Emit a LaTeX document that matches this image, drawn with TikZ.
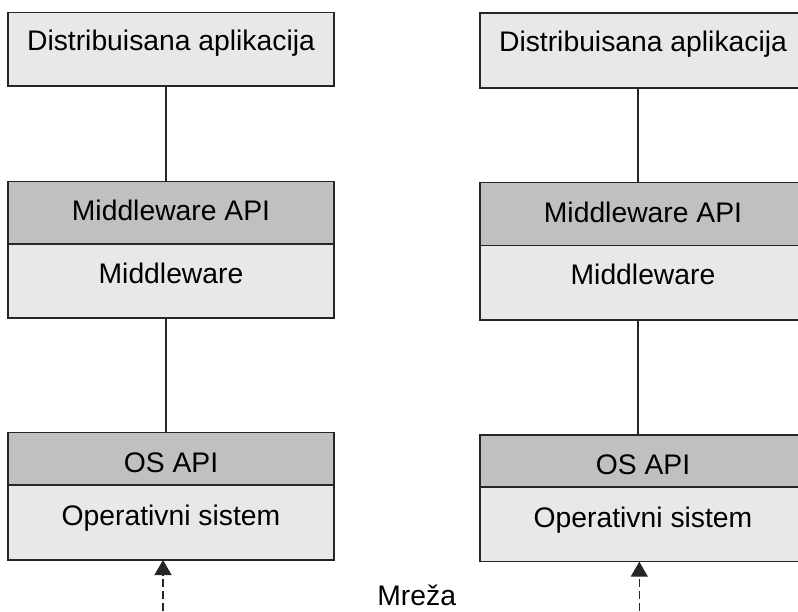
\documentclass[tikz,border=0pt]{standalone}
\usepackage{fontspec}
\setmainfont{Liberation Sans}
\usetikzlibrary{arrows.meta}
\definecolor{layerfill}{HTML}{E8E8E8}
\definecolor{apifill}{HTML}{C0C0C0}
\definecolor{edge}{HTML}{262626}
\begin{document}
\begin{tikzpicture}[x=1pt,y=-1pt,
  layer/.style={draw=edge, line width=1.3pt, fill=layerfill, rectangle,
    inner sep=0pt, outer sep=0pt, anchor=north west, minimum width=326pt},
  apilayer/.style={layer, fill=apifill},
  lbl/.style={anchor=base, inner sep=0pt, font=\fontsize{28.3}{34}\selectfont},
  link/.style={draw=edge, line width=1.3pt},
  net/.style={draw=edge, line width=1.4pt, dash pattern=on 8pt off 4pt,
    -{Triangle[length=15pt,width=17pt]}}]
\useasboundingbox (0,0) rectangle (798,611);
\clip (0,0) rectangle (798,611);

% left host stack
\node[layer, minimum height=73.3pt] (appL) at (8,12.7) {};
\node[lbl] (appLt) at (171,50.5) {Distribuisana aplikacija};
\node[apilayer, minimum height=62.3pt] (mwapiL) at (8,181.7) {};
\node[lbl] (mwapiLt) at (171,220.7) {Middleware API};
\node[layer, minimum height=74pt] (mwL) at (8,244) {};
\node[lbl] (mwLt) at (171,283) {Middleware};
\node[apilayer, minimum height=52.3pt] (osapiL) at (8,432.7) {};
\node[lbl] (osapiLt) at (171,472) {OS API};
\node[layer, minimum height=75pt] (osL) at (8,485) {};
\node[lbl] (osLt) at (171,525) {Operativni sistem};

% right host stack
\node[layer, minimum height=75pt] (appR) at (480,13) {};
\node[lbl] (appRt) at (643,51) {Distribuisana aplikacija};
\node[apilayer, minimum height=63pt] (mwapiR) at (480,182.7) {};
\node[lbl] (mwapiRt) at (643,222) {Middleware API};
\node[layer, minimum height=74.3pt] (mwR) at (480,245.7) {};
\node[lbl] (mwRt) at (643,284.5) {Middleware};
\node[apilayer, minimum height=52pt] (osapiR) at (480,435) {};
\node[lbl] (osapiRt) at (643,474) {OS API};
\node[layer, minimum height=74.7pt] (osR) at (480,487) {};
\node[lbl] (osRt) at (643,527) {Operativni sistem};

% vertical links between layers
\coordinate (spineL) at (166,0);
\coordinate (spineR) at (638,0);
\draw[link] (appL.south -| spineL) -- (mwapiL.north -| spineL);
\draw[link] (mwL.south -| spineL) -- (osapiL.north -| spineL);
\draw[link] (appR.south -| spineR) -- (mwapiR.north -| spineR);
\draw[link] (mwR.south -| spineR) -- (osapiR.north -| spineR);

% network
\coordinate (netL) at (163,611);
\coordinate (netR) at (639.3,611);
\draw[net] (netL) -- (osL.south -| netL);
\draw[net] (netR) -- (osR.south -| netR);
\node[lbl] (mreza) at (416.7,605.5) {Mreža};
\end{tikzpicture}
\end{document}
